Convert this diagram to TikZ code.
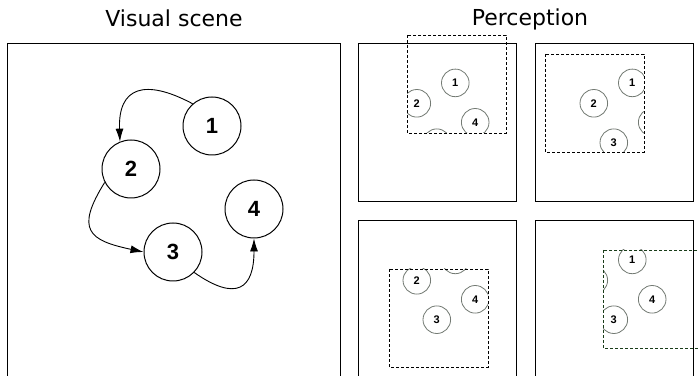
\documentclass[tikz,border=0pt]{standalone}
\usepackage{fontspec}
\setmainfont{DejaVu Sans}
\newfontfamily\numfont{Liberation Sans}
\usetikzlibrary{arrows.meta}

\definecolor{ballgray}{RGB}{115,122,115}
\definecolor{wingreen}{RGB}{25,60,25}

\tikzset{
  ball/.style={circle, draw, line width=1pt, minimum size=58pt, inner sep=0pt,
    font=\numfont\bfseries\fontsize{22}{22}\selectfont},
  small ball/.style={circle, draw=ballgray, line width=0.8pt, minimum size=27.6pt, inner sep=0pt,
    font=\numfont\bfseries\fontsize{11}{11}\selectfont},
  frame/.style={draw, line width=1pt},
  window/.style={draw, line width=0.9pt, dash pattern=on 3pt off 2pt},
  title/.style={anchor=base, font=\fontsize{22}{22}\selectfont}
}

\begin{document}
\begin{tikzpicture}[x=1pt, y=1pt, >={Latex[length=13pt,width=8pt]}]

\useasboundingbox (0,0) rectangle (699,375);

\node [title] (scene-title) at (174,348) {Visual scene};
\node [title] (perception-title) at (530,349) {Perception};

% visual scene
\draw [frame] (7,331) rectangle (340,-2);

\foreach \n/\px/\py in {1/212/249, 2/131/206, 3/173/123, 4/254/166}
  \node [ball] (scene-\n) at (\px,\py) {\n};

\draw [->, line width=0.9pt] (scene-1.131) to[out=152, in=92, looseness=1.7] (scene-2.112);
\draw [->, line width=0.9pt] (scene-2.207) to[out=238, in=168, looseness=1.8] (scene-3.180);
\draw [->, line width=0.9pt] (scene-3.316) to[out=-35, in=-90, looseness=1.9] (scene-4.270);

% perception: same scene, seen through a moving window
\foreach \p/\cx/\cy/\wx/\wy/\wc in {a/358/331/407/340/black, b/535/331/545/321/black,
                                    c/358/154/389/106/black, d/535/154/603/125/wingreen} {
  \draw [frame] (\cx,\cy) rectangle ++(158,-158);
  \begin{scope}
    \clip (\wx,\wy) rectangle ++(99,-98);
    \foreach \n/\dx/\dy in {1/97.3/38.9, 2/58.8/59.3, 3/78.8/98.7, 4/117.2/78.3}
      \node [small ball] (\p-\n) at (\cx+\dx,\cy-\dy) {\n};
  \end{scope}
  \draw [window, \wc] (\wx,\wy) rectangle ++(99,-98);
}

\end{tikzpicture}
\end{document}
